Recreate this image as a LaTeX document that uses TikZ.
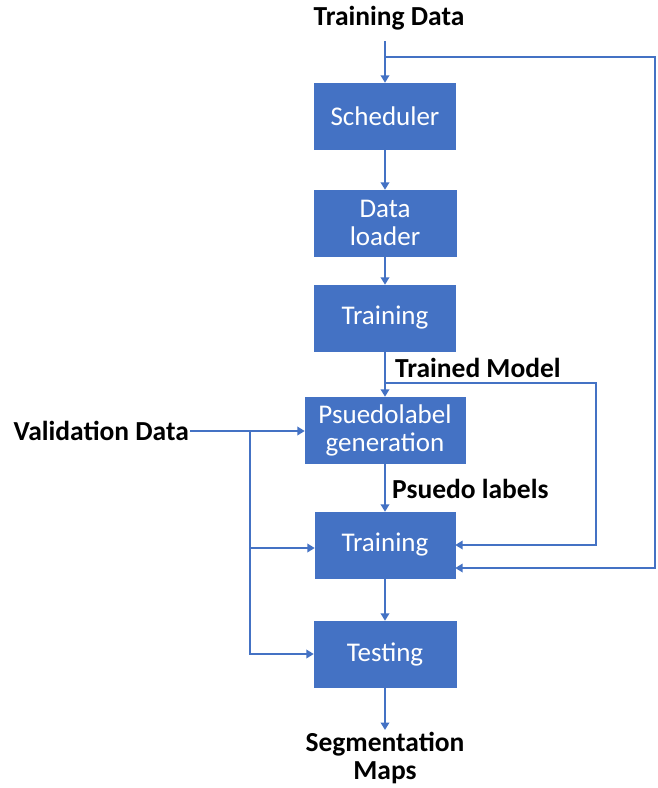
\documentclass[tikz,border=0pt]{standalone}
\usepackage{fontspec}
\setmainfont{Carlito}
\usetikzlibrary{arrows.meta,calc}
\definecolor{flowblue}{HTML}{4472C4}
\begin{document}
\begin{tikzpicture}[x=1pt,y=-1pt,
  every node/.style={font=\fontsize{27}{28}\selectfont},
  procbox/.style={draw=flowblue,fill=flowblue,text=white,minimum height=66pt,
    align=center,inner sep=0pt},
  lbl/.style={font=\fontsize{27.5}{28}\selectfont\bfseries,text=black,align=center,inner sep=1pt},
  flow/.style={draw=flowblue,line width=2.6pt},
  arr/.style={flow,-{Triangle[width=8.5pt,length=7.5pt]}}]
\useasboundingbox (0,0) rectangle (657,788);

% process boxes
\node[procbox,minimum width=141pt] (sch) at (385,116) {Scheduler};
\node[procbox,minimum width=142pt] (dl)  at (385,223) {Data\\loader};
\node[procbox,minimum width=141pt] (tr1) at (385,318) {Training};
\node[procbox,minimum width=160pt] (pl)  at (385,430) {Psuedolabel\\generation};
\node[procbox,minimum width=140pt] (tr2) at (385,545) {Training};
\node[procbox,minimum width=142pt] (te)  at (385,654) {Testing};

% inputs, outputs and edge labels
\node[lbl] (td) at (389,18) {Training Data};
\node[lbl,anchor=east] (vd) at (190,431) {Validation Data};
\node[lbl,anchor=west] (tm) at (394,368) {Trained Model};
\node[lbl,anchor=west] (pls) at (391,489) {Psuedo labels};
\node[lbl] (sm) at (385,758) {Segmentation\\Maps};

% branch points
\coordinate (j1) at (385,57);
\coordinate (rt) at (655,57);
\coordinate (j2) at (385,383);
\coordinate (k2) at (596,383);
\coordinate (b1) at (250,431);
\coordinate (tdbot) at (385,41);
\coordinate (smtop) at (385,730);

% main vertical flow
\draw[arr] (tdbot) -- (sch.north);
\draw[arr] (sch.south) -- (dl.north);
\draw[arr] (dl.south) -- (tr1.north);
\draw[arr] (tr1.south) -- (pl.north);
\draw[arr] (pl.south) -- (tr2.north);
\draw[arr] (tr2.south) -- (te.north);
\draw[arr] (te.south) -- (smtop);

% training data fed back into the second training stage
\draw[arr] (j1) -- (rt) |- ($(tr2.east)+(0,23)$);
% trained model fed into the second training stage
\draw[arr] (j2) -- (k2) |- (tr2.east);

% validation data distribution
\draw[arr] (vd.east) -- (pl.west |- vd.east);
\draw[arr] (b1) |- ($(tr2.west)+(0,3)$);
\draw[arr] (b1) |- (te.west);
\end{tikzpicture}
\end{document}
